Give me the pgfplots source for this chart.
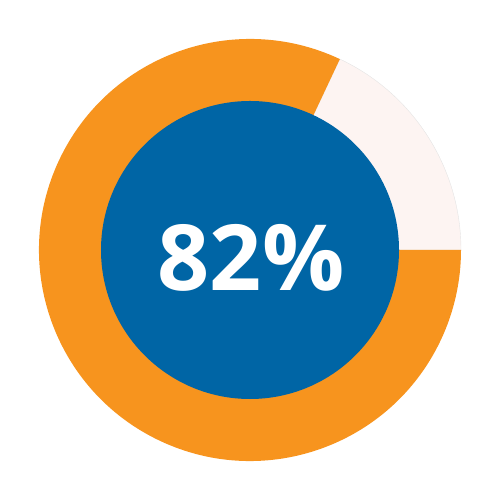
\documentclass[border=0pt]{standalone}
\usepackage{pgfplots}
\usepackage{pgfplotstable}
\usepackage{fontspec}
\setmainfont{Open Sans}
\pgfplotsset{compat=1.18}
\definecolor{ringorange}{HTML}{F7941E}
\definecolor{ringpale}{HTML}{FDF4F2}
\definecolor{coreblue}{HTML}{0065A5}

\pgfplotstableread{
label value
done 82
rest 18
}\shares
\pgfplotstablegetelem{0}{value}\of\shares
\let\done\pgfplotsretval
% angle where the remaining share ends, and the point on the outer rim there
\pgfmathsetmacro{\cut}{360*(100-\done)/100}
\pgfmathsetmacro{\cutx}{211*cos(\cut)}
\pgfmathsetmacro{\cuty}{211*sin(\cut)}

\begin{document}
\begin{tikzpicture}
\begin{axis}[
    scale only axis, width=5in, height=5in,
    xmin=-250, xmax=250, ymin=-250, ymax=250,
    hide axis, clip=false]
  % one axis unit = 0.01in
  \path (axis cs:-250,-250) rectangle (axis cs:250,250);
  \fill[ringpale, draw=black!10, line width=0.3pt] (axis cs:0,0) -- (axis cs:211,0)
     arc[start angle=0, end angle=\cut, radius=2.11in] -- cycle;
  \fill[ringorange] (axis cs:0,0) -- (axis cs:\cutx,\cuty)
     arc[start angle=\cut, end angle=360, radius=2.11in] -- cycle;
  \fill[coreblue] (axis cs:0,0) circle[radius=1.49in];
  \node[text=white, font=\fontsize{66}{70}\selectfont\bfseries]
     at (axis cs:1,-8) {\done\%};
\end{axis}
\end{tikzpicture}
\end{document}
